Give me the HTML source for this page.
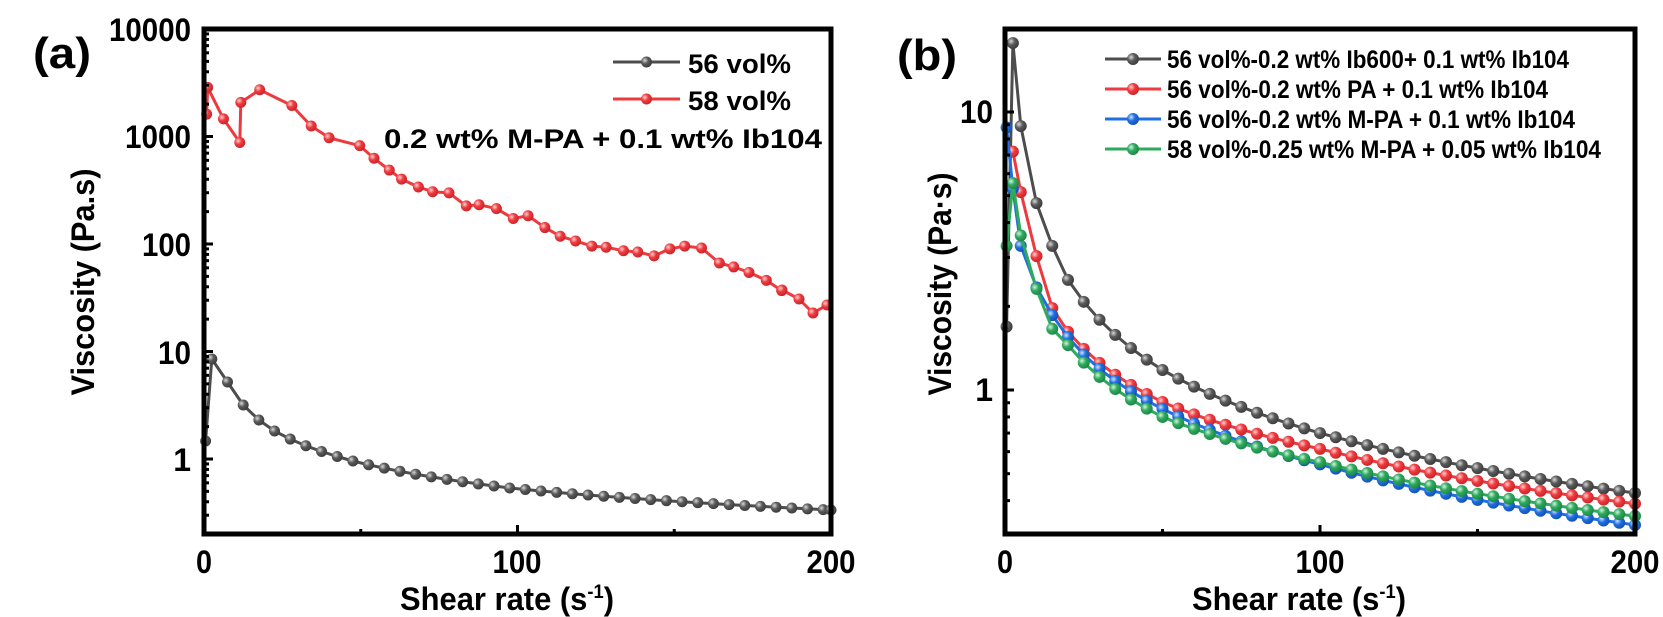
<!DOCTYPE html>
<html><head><meta charset="utf-8">
<style>
html,body{margin:0;padding:0;background:#fff;}
svg{display:block;}
text{font-family:"Liberation Sans",Arial,sans-serif;font-weight:bold;fill:#000;}
</style></head>
<body>
<svg id="s" width="1663" height="617" viewBox="0 0 1663 617" xmlns="http://www.w3.org/2000/svg">
<defs>
<radialGradient id="gk" cx="0.35" cy="0.35" r="0.7"><stop offset="0" stop-color="#d8d8d8"/><stop offset="0.45" stop-color="#5a5a5a"/><stop offset="1" stop-color="#3a3a3a"/></radialGradient>
<radialGradient id="gr" cx="0.35" cy="0.35" r="0.7"><stop offset="0" stop-color="#ffd0d0"/><stop offset="0.45" stop-color="#ee3b3f"/><stop offset="1" stop-color="#c82228"/></radialGradient>
<radialGradient id="gb" cx="0.35" cy="0.35" r="0.7"><stop offset="0" stop-color="#cfe2ff"/><stop offset="0.45" stop-color="#1f6fe0"/><stop offset="1" stop-color="#1250b0"/></radialGradient>
<radialGradient id="gg" cx="0.35" cy="0.35" r="0.7"><stop offset="0" stop-color="#d3f3df"/><stop offset="0.45" stop-color="#2eaa5e"/><stop offset="1" stop-color="#1d8445"/></radialGradient>
</defs>
<g id="content"></g>
<!-- Panel a text -->
<text x="33" y="68" font-size="44" textLength="58" lengthAdjust="spacingAndGlyphs">(a)</text>
<text x="191" y="41" font-size="32" text-anchor="end" textLength="82" lengthAdjust="spacingAndGlyphs">10000</text>
<text x="191" y="148" font-size="32" text-anchor="end" textLength="66" lengthAdjust="spacingAndGlyphs">1000</text>
<text x="191" y="256" font-size="32" text-anchor="end" textLength="49" lengthAdjust="spacingAndGlyphs">100</text>
<text x="191" y="364" font-size="32" text-anchor="end" textLength="33" lengthAdjust="spacingAndGlyphs">10</text>
<text x="191" y="471" font-size="32" text-anchor="end">1</text>
<text x="204" y="573" font-size="32" text-anchor="middle" textLength="16" lengthAdjust="spacingAndGlyphs">0</text>
<text x="517" y="573" font-size="32" text-anchor="middle" textLength="49" lengthAdjust="spacingAndGlyphs">100</text>
<text x="831" y="573" font-size="32" text-anchor="middle" textLength="49" lengthAdjust="spacingAndGlyphs">200</text>
<text x="400" y="610" font-size="32" textLength="214" lengthAdjust="spacingAndGlyphs">Shear rate (s<tspan font-size="19" dy="-12">-1</tspan><tspan dy="12">)</tspan></text>
<text transform="translate(94,282) rotate(-90)" font-size="32" text-anchor="middle" textLength="227" lengthAdjust="spacingAndGlyphs">Viscosity (Pa.s)</text>
<text x="688" y="73" font-size="27" textLength="103" lengthAdjust="spacingAndGlyphs">56 vol%</text>
<text x="688" y="110" font-size="27" textLength="103" lengthAdjust="spacingAndGlyphs">58 vol%</text>
<text x="384" y="148" font-size="27" textLength="438" lengthAdjust="spacingAndGlyphs">0.2 wt% M-PA + 0.1 wt% Ib104</text>
<!-- Panel b text -->
<text x="897" y="70" font-size="44" textLength="60" lengthAdjust="spacingAndGlyphs">(b)</text>
<text x="993" y="123" font-size="32" text-anchor="end" textLength="33" lengthAdjust="spacingAndGlyphs">10</text>
<text x="993" y="401" font-size="32" text-anchor="end">1</text>
<text x="1005" y="573" font-size="32" text-anchor="middle" textLength="16" lengthAdjust="spacingAndGlyphs">0</text>
<text x="1320" y="573" font-size="32" text-anchor="middle" textLength="49" lengthAdjust="spacingAndGlyphs">100</text>
<text x="1635" y="573" font-size="32" text-anchor="middle" textLength="49" lengthAdjust="spacingAndGlyphs">200</text>
<text x="1192" y="610" font-size="32" textLength="214" lengthAdjust="spacingAndGlyphs">Shear rate (s<tspan font-size="19" dy="-12">-1</tspan><tspan dy="12">)</tspan></text>
<text transform="translate(951,284) rotate(-90)" font-size="32" text-anchor="middle" textLength="223" lengthAdjust="spacingAndGlyphs">Viscosity (Pa·s)</text>
<text x="1167" y="68" font-size="25" textLength="402" lengthAdjust="spacingAndGlyphs">56 vol%-0.2 wt% Ib600+ 0.1 wt% Ib104</text>
<text x="1167" y="98" font-size="25" textLength="381" lengthAdjust="spacingAndGlyphs">56 vol%-0.2 wt% PA + 0.1 wt% Ib104</text>
<text x="1167" y="128" font-size="25" textLength="408" lengthAdjust="spacingAndGlyphs">56 vol%-0.2 wt% M-PA + 0.1 wt% Ib104</text>
<text x="1167" y="158" font-size="25" textLength="434" lengthAdjust="spacingAndGlyphs">58 vol%-0.25 wt% M-PA + 0.05 wt% Ib104</text>
</svg>
<script>
var NS="http://www.w3.org/2000/svg",G=document.getElementById("content");
function el(t,a){var e=document.createElementNS(NS,t);for(var k in a)e.setAttribute(k,a[k]);G.appendChild(e);return e;}
var COL={k:"#4d4d4d",r:"#ec3a3f",b:"#1f6fe0",g:"#2eaa5e"};
function series(pts,c,r){el("polyline",{points:pts.map(p=>p[0].toFixed(1)+","+p[1].toFixed(1)).join(" "),fill:"none",stroke:COL[c],"stroke-width":3,"stroke-linejoin":"round"});
 pts.forEach(p=>el("circle",{cx:p[0],cy:p[1],r:r,fill:"url(#g"+c+")"}));}
function interp(anch,x){
 if(x<=anch[0][0])return anch[0][1];
 for(var i=1;i<anch.length;i++){if(x<=anch[i][0]){var a=anch[i-1],b=anch[i];var t=(Math.log(x)-Math.log(a[0]))/(Math.log(b[0])-Math.log(a[0]));return a[1]+t*(b[1]-a[1]);}}
 return anch[anch.length-1][1];}
var ax=x=>204+x*3.135;
var kA=[[ax(0.5),441],[ax(2.5),359]];
var ancA=[[7.5,382],[12.5,405],[17.5,420],[22.5,431],[47.5,461],[97.5,488],[200,510]];
for(var x=7.5;x<=198;x+=5){kA.push([ax(x),interp(ancA,x)]);}
kA.push([ax(200),510]);
var rz=[[405,290],[407,222],[438,302],[470,362],[472,260],[509,228],[572,268],[610,320],[645,350],[705,370],[733,402],[763,432],[787,455],[820,475],[848,487],[880,490],[914,523],[939,520],[973,530],[1006,555],[1035,548],[1068,578],[1098,600],[1128,612],[1160,625],[1188,628],[1222,637],[1250,640],[1282,650],[1313,632],[1342,625],[1375,630],[1410,668],[1438,678],[1468,692],[1502,712],[1532,738]];
var rA=rz.map(p=>[p[0]/1.96,p[1]/2.54]);
rA=rA.concat([[782,290],[799,299],[813,313],[827,305]]);
series(kA,"k",5.5);series(rA,"r",5.5);
var bx=x=>1005+x*3.15, by=e=>390-278*Math.log10(e);
function bser(first,anc){var p=first.map(q=>[bx(q[0]),by(q[1])]);for(var x=10;x<=200;x+=5)p.push([bx(x),by(Math.exp(interp(anc.map(a=>[a[0],Math.log(a[1])]),x)))]);return p;}
var kB=bser([[0.5,1.69],[2.5,17.7],[5,8.9]],[[10,4.7],[15,3.3],[20,2.49],[50,1.18],[100,0.70],[200,0.426]]);
var rB=bser([[2.5,7.2],[5,5.15]],[[10,3.03],[15,1.97],[20,1.62],[50,0.905],[100,0.614],[200,0.39]]);
var bB=bser([[0.5,8.8],[2.5,5.3],[5,3.3]],[[10,2.34],[15,1.86],[20,1.55],[50,0.855],[100,0.54],[200,0.327]]);
var gB=bser([[0.5,3.3],[2.5,5.55],[5,3.6]],[[10,2.31],[15,1.66],[20,1.45],[50,0.80],[100,0.55],[200,0.352]]);
series(kB,"k",6);series(rB,"r",6);series(bB,"b",6);series(gB,"g",6);
function leg(x1,x2,y,c,r){el("line",{x1:x1,y1:y,x2:x2,y2:y,stroke:COL[c],"stroke-width":3});el("circle",{cx:(x1+x2)/2,cy:y,r:r,fill:"url(#g"+c+")"});}
leg(613,680,62,"k",5.5);leg(613,680,99,"r",5.5);
leg(1105,1161,59,"k",6);leg(1105,1161,89,"r",6);leg(1105,1161,119,"b",6);leg(1105,1161,149,"g",6);
function frame(L,R,T,B){el("rect",{x:L,y:T,width:R-L,height:B-T,fill:"none",stroke:"#000","stroke-width":5});}
frame(204,831,29,534);frame(1005,1635,29,534);
function tk(x1,y1,x2,y2,w){el("line",{x1:x1,y1:y1,x2:x2,y2:y2,stroke:"#000","stroke-width":w||3});}
[[204,831],[1005,1635]].forEach(function(a){var L=a[0],R=a[1];for(var i=0;i<=4;i++){var x=L+(R-L)*i/4;var len=i%2==0?9:5;tk(x,534,x,534-len);}});
for(var d=-1;d<=4;d++){var y0=459-107.5*d;for(var m=1;m<10;m++){var y=y0-107.5*Math.log10(m);if(y<29||y>534)continue;tk(204,y,204+(m==1?9:5),y);}}
for(var d=-1;d<=1;d++){var y0=390-278*d;for(var m=1;m<10;m++){var y=y0-278*Math.log10(m);if(y<29||y>534)continue;tk(1005,y,1005+(m==1?9:5),y);}}
</script>
</body></html>
